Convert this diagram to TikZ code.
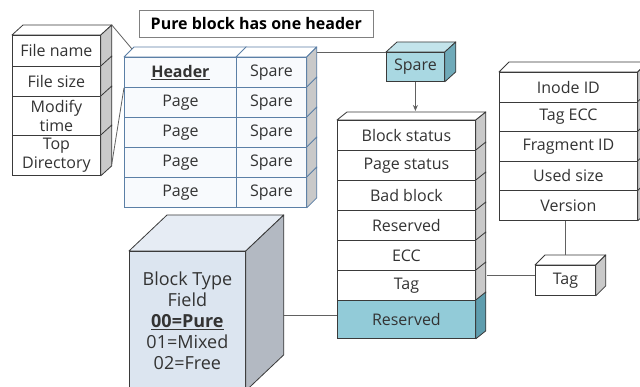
\documentclass[tikz,border=0pt]{standalone}
\usepackage{fontspec}
\setmainfont{Open Sans}
\usetikzlibrary{calc,arrows.meta}
\definecolor{txt}{HTML}{333333}
\definecolor{edge}{HTML}{3A3A3A}
\definecolor{blueedge}{HTML}{5B7FA6}
\definecolor{sidegray}{HTML}{C9C9C9}
\definecolor{tealf}{HTML}{A9D8E2}
\definecolor{tealside}{HTML}{6FAAB9}
\definecolor{resf}{HTML}{92CBD8}
\definecolor{resside}{HTML}{5E9DAE}
\definecolor{cubef}{HTML}{DCE5F0}
\definecolor{cubetop}{HTML}{E6ECF4}
\definecolor{cubeside}{HTML}{B3B9C2}
\definecolor{paleblue}{HTML}{F8FAFD}
\tikzset{
  cell/.style={draw=edge, line width=0.8pt, fill=white, inner sep=0pt, anchor=north west,
    align=center, text=txt, font=\fontsize{16}{18.5}\selectfont},
  bcell/.style={cell, draw=blueedge, fill=paleblue},
  face/.style={draw=edge, line width=0.8pt, line join=round},
  bface/.style={draw=blueedge, line width=0.8pt, line join=round},
  wire/.style={draw=edge!80, line width=0.8pt},
}
\newcommand\sidefaces[5]{\foreach \r in {#1}{\draw[#5] (\r.north east) -- ++(#2,-#3) -- ($(\r.south east)+(#2,-#3)$) -- (\r.south east) -- cycle;}}
\begin{document}
\begin{tikzpicture}[x=1pt,y=-1pt]
\useasboundingbox (0,0) rectangle (640,387);
\fill[white] (0,0) rectangle (640,387);

% title
\node[draw=gray, line width=0.6pt, anchor=north west, minimum width=234pt, minimum height=27pt, inner sep=0pt,
  font=\fontsize{16}{18}\selectfont\bfseries, text=black] (title) at (139,10) {Pure block has one header};

% file stack
\node[cell, minimum width=88pt, minimum height=31pt] (f1) at (12,35) {File name};
\node[cell, minimum width=88pt, minimum height=30pt] (f2) at (12,66) {File size};
\node[cell, minimum width=88pt, minimum height=39pt] (f3) at (12,96) {Modify\\time};
\node[cell, minimum width=88pt, minimum height=40pt] (f4) at (12,135) {Top\\Directory};
\draw[face, fill=white] (f1.north west) -- ++(11,-10) -- ($(f1.north east)+(11,-10)$) -- (f1.north east) -- cycle;
\sidefaces{f1,f2,f3,f4}{11}{10}{sidegray}{face, fill=sidegray}

% pure block table
\foreach \i/\y in {1/57,2/87,3/117,4/147,5/177}{
  \node[bcell, minimum width=112pt, minimum height=30pt] (p\i) at (124,\y) {\ifnum\i=1 \textbf{\underline{Header}}\else Page\fi};
  \node[bcell, minimum width=70pt, minimum height=30pt] (s\i) at (236,\y) {Spare};
}
\draw[bface, fill=white] (p1.north west) -- ++(10,-10) -- ($(p1.north east)+(10,-10)$) -- (p1.north east) -- cycle;
\draw[bface, fill=white] (s1.north west) -- ++(10,-10) -- ($(s1.north east)+(10,-10)$) -- (s1.north east) -- cycle;
\sidefaces{s1,s2,s3,s4,s5}{10}{10}{sidegray}{bface, fill=sidegray}

% zoom lines from file stack to header
\coordinate (zt) at ($(f1.north east)+(11,-10)$);
\coordinate (zb) at ($(f4.south east)+(11,-12)$);
\draw[wire] (zt) -- ($(p1.north west)+(8,-8)$);
\draw[wire] (zb) -- (p1.south west);

% spare box
\node[cell, fill=tealf, minimum width=58pt, minimum height=29pt] (sp) at (386,52) {Spare};
\draw[face, fill=tealf!70!white] (sp.north west) -- ++(11,-10) -- ($(sp.north east)+(11,-10)$) -- (sp.north east) -- cycle;
\sidefaces{sp}{11}{10}{tealside}{face, fill=tealside}
\coordinate (sl) at ($(s1.north east)+(10,-5)$);
\draw[wire] (sl) -- (sl -| sp.west);

% status table
\foreach \i/\t/\y in {1/Block status/120,2/Page status/150,3/Bad block/180,4/Reserved/210,5/ECC/240,6/Tag/270}{
  \node[cell, minimum width=138pt, minimum height=30pt] (b\i) at (337,\y) {\t};
}
\node[cell, fill=resf, minimum width=138pt, minimum height=38pt] (b7) at (337,300) {Reserved};
\draw[face, fill=white] (b1.north west) -- ++(10,-8) -- ($(b1.north east)+(10,-8)$) -- (b1.north east) -- cycle;
\sidefaces{b1,b2,b3,b4,b5,b6}{10}{8}{sidegray}{face, fill=sidegray}
\sidefaces{b7}{10}{8}{resside}{face, fill=resside}
\draw[wire, -{Stealth[length=6pt,width=5pt]}] (sp.south) -- ($(sp.south |- b1.north)+(0,-9)$);

% inode table
\foreach \i/\t/\y in {1/Inode ID/72,2/Tag ECC/101.6,3/Fragment ID/131.2,4/Used size/160.8,5/Version/190.4}{
  \node[cell, minimum width=138pt, minimum height=29.6pt] (n\i) at (499,\y) {\t};
}
\draw[face, fill=white] (n1.north west) -- ++(10,-10) -- ($(n1.north east)+(10,-10)$) -- (n1.north east) -- cycle;
\sidefaces{n1,n2,n3,n4,n5}{10}{10}{sidegray}{face, fill=sidegray}

% tag box
\node[cell, minimum width=60pt, minimum height=30pt] (tg) at (535,265) {Tag};
\draw[face, fill=white] (tg.north west) -- ++(10,-10) -- ($(tg.north east)+(10,-10)$) -- (tg.north east) -- cycle;
\sidefaces{tg}{10}{10}{sidegray}{face, fill=sidegray}
\draw[wire] (n5.south -| tg.north) -- ($(tg.north)+(0,-10)$);
\coordinate (tl) at ($(tg.west)+(0,-5)$);
\draw[wire] (tl) -- (tl -| 487,0);

% cube
\node[draw=edge, line width=0.8pt, fill=cubef, anchor=north west, minimum width=116pt, minimum height=139pt,
  inner sep=0pt, align=center, text=txt, font=\fontsize{18}{21}\selectfont] (cube) at (129,251)
  {Block Type\\Field\\\textbf{\underline{00=Pure}}\\01=Mixed\\02=Free};
\draw[face, fill=cubetop] (cube.north west) -- ++(38,-36) -- ($(cube.north east)+(38,-36)$) -- (cube.north east) -- cycle;
\draw[face, fill=cubeside] (cube.north east) -- ++(38,-36) -- ($(cube.south east)+(38,-36)$) -- (cube.south east) -- cycle;
\coordinate (cr) at (283,315);
\draw[wire] (cr) -- (cr -| b7.west);
\end{tikzpicture}
\end{document}
